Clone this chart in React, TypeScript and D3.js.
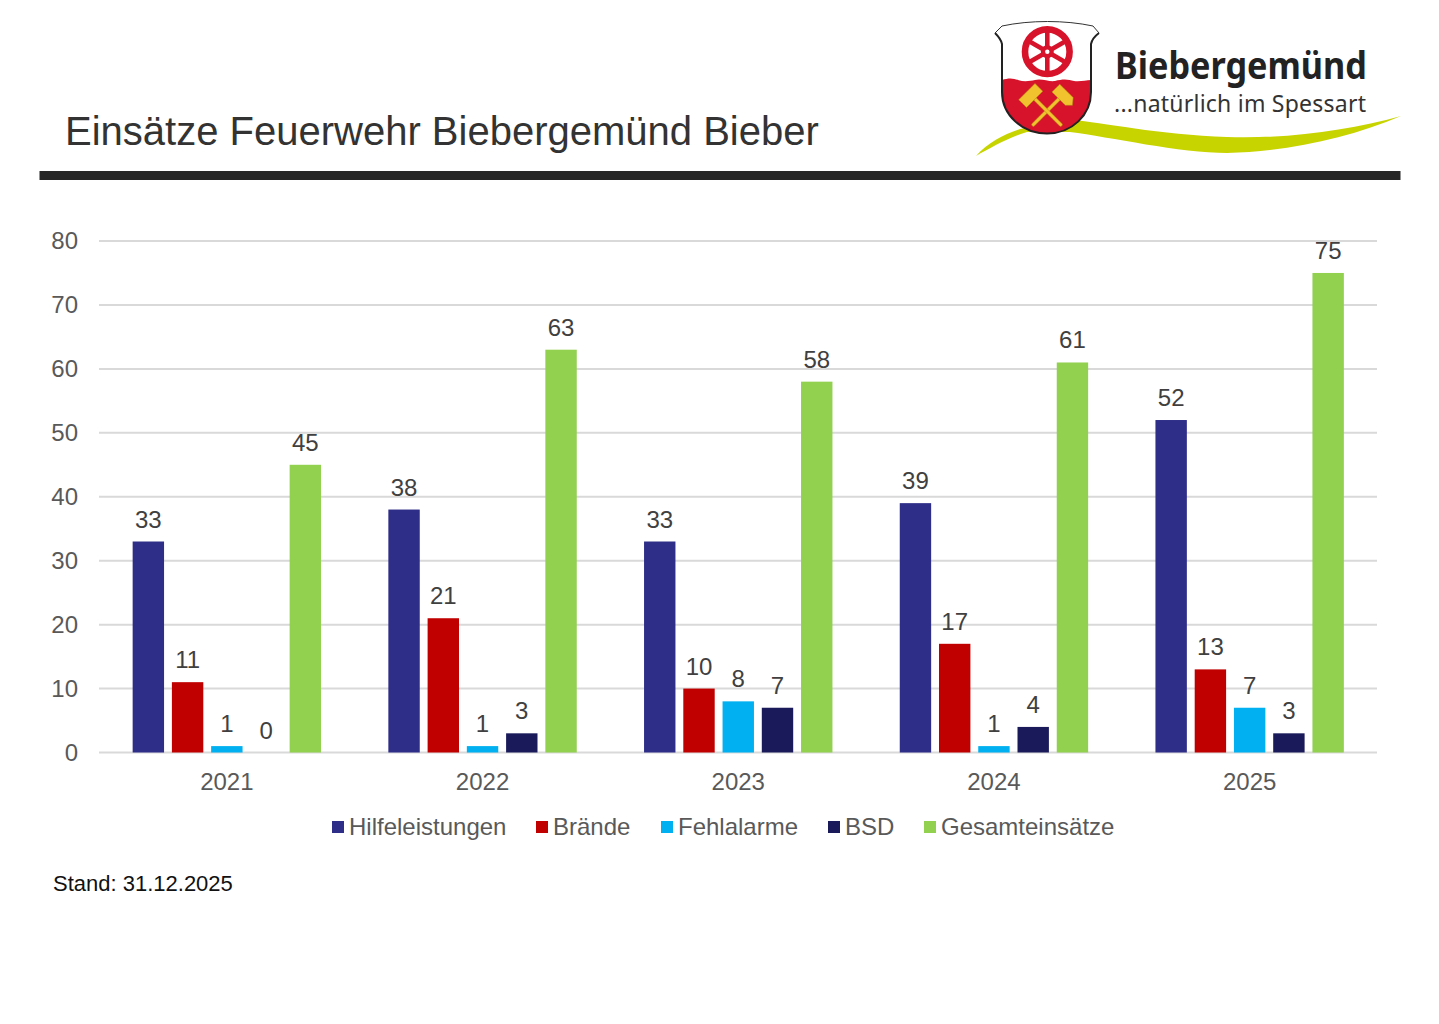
import React from 'react';
import * as d3 from 'd3';

const years = ['2021', '2022', '2023', '2024', '2025'];
const seriesNames = ['Hilfeleistungen', 'Brände', 'Fehlalarme', 'BSD', 'Gesamteinsätze'];
const seriesColors = ['#2e2d88', '#c00000', '#00b0f0', '#1a1a5a', '#92d050'];
const hilfeleistungen = [33, 38, 33, 39, 52];
const braende = [11, 21, 10, 17, 13];
const fehlalarme = [1, 1, 8, 1, 7];
const bsd = [0, 3, 7, 4, 3];
const gesamt = [45, 63, 58, 61, 75];
const seriesValues = [hilfeleistungen, braende, fehlalarme, bsd, gesamt];
const yTicks = [0, 10, 20, 30, 40, 50, 60, 70, 80];
const legendX = [332, 536, 661, 828, 924];

const FONT = 'Liberation Sans, Arial, sans-serif';
const GREY = '#595959';
const LOGO_RED = '#d7132b';
const LOGO_YELLOW = '#f2c22e';

const y = d3.scaleLinear().domain([0, 80]).range([752.5, 241]);
const x0 = d3.scaleBand().domain(years).range([99, 1377.5]);
const x1 = d3.scaleBand().domain(seriesNames).range([-94.2, 94.2]).paddingInner(0.2);

// Wappen + Schriftzug oben rechts
const Logo = () => {
  const spokes = d3.range(6).map((i) => (i * Math.PI) / 3 + Math.PI / 6);
  return (
    <g>
      <path
        d="M976,156 C988,142 1005,134 1020,129 L1073,120 C1100,122 1160,135 1227,137 C1290,139 1350,130 1401,116 C1350,138 1285,152 1227,153 C1180,153 1110,137 1070,132 L1027,132 C1010,137 990,148 976,156 Z"
        fill="#c8d400"
      />
      <path
        d="M1002,44 L1002,92 C1002,115 1022,133.5 1047,133.5 C1072,133.5 1091,115 1091,92 L1091,44 C1092,39 1095,36 1099,33 L1093,26 C1065,20 1030,20 1002,26 L995,33 C998,36 1001,39 1002,44 Z"
        fill="#fff"
      />
      <path
        d="M1002,80 C1008,78 1013,78 1018,80 C1024,82 1030,81 1035,80 C1041,78 1049,82 1055,81 C1062,79 1068,79 1074,81 C1080,82 1086,80 1091,80 L1091,92 C1091,115 1072,133.5 1047,133.5 C1022,133.5 1002,115 1002,92 Z"
        fill={LOGO_RED}
      />
      <path
        d="M995,33 C998,36 1001,39 1002,44 L1002,92 C1002,115 1022,133.5 1047,133.5 C1072,133.5 1091,115 1091,92 L1091,44 C1092,39 1095,36 1099,33"
        fill="none"
        stroke="#222"
        strokeWidth={2}
      />
      <path d="M995,33 L1002,26 C1030,20 1065,20 1093,26 L1099,33" fill="none" stroke="#333" strokeWidth={1} />
      <circle cx={1047.3} cy={51.7} r={22.3} fill="none" stroke={LOGO_RED} strokeWidth={6.6} />
      {spokes.map((a) => (
        <line
          key={a}
          x1={1047.3}
          y1={51.7}
          x2={1047.3 + 21 * Math.cos(a)}
          y2={51.7 + 21 * Math.sin(a)}
          stroke={LOGO_RED}
          strokeWidth={4.6}
        />
      ))}
      <circle cx={1047.3} cy={51.7} r={6.5} fill={LOGO_RED} />
      <circle cx={1047.3} cy={51.7} r={2.2} fill="#fff" />
      <g transform="translate(1047,111) rotate(45)" stroke="#a98a12" strokeWidth={0.5} fill={LOGO_YELLOW}>
        <rect x={-1.7} y={-20} width={3.4} height={41} rx={1.7} />
        <path d="M-10,-28 L9,-28 L14,-22 L9,-17 L-10,-17 Z" />
      </g>
      <g transform="translate(1047,111) rotate(-45)" stroke="#a98a12" strokeWidth={0.5} fill={LOGO_YELLOW}>
        <rect x={-1.7} y={-20} width={3.4} height={41} rx={1.7} />
        <path d="M-12,-28 L11,-28 L11,-17 L-12,-17 Z" />
      </g>
      <text x={1115} y={79} fontFamily="Noto Sans, sans-serif" fontWeight={700} fontSize={37} fill="#222" textLength={252} lengthAdjust="spacingAndGlyphs">
        Biebergemünd
      </text>
      <text x={1114} y={112} fontFamily="Noto Sans, sans-serif" fontSize={23} fill="#333" textLength={252} lengthAdjust="spacing">
        ...natürlich im Spessart
      </text>
    </g>
  );
};

export default function App() {
  return (
    <svg
      width={1439}
      height={1024}
      viewBox="0 0 1439 1024"
      style={{ position: 'absolute', left: 0, top: 0, display: 'block', background: '#fff' }}
    >
      <text x={65} y={145} fontFamily={FONT} fontSize={40} fill="#333">
        Einsätze Feuerwehr Biebergemünd Bieber
      </text>
      <Logo />
      <rect x={39.5} y={171} width={1361} height={9} fill="#262626" />

      {yTicks.map((t) => (
        <g key={t}>
          <line x1={99} x2={1377} y1={y(t)} y2={y(t)} stroke="#d9d9d9" strokeWidth={2} />
          <text x={78} y={y(t) + 8} textAnchor="end" fontFamily={FONT} fontSize={24} fill={GREY}>
            {t}
          </text>
        </g>
      ))}

      {years.map((yr, i) => {
        const cx = (x0(yr) as number) + x0.bandwidth() / 2;
        return (
          <g key={yr}>
            {seriesNames.map((name, j) => {
              const v = seriesValues[j][i];
              const bx = cx + (x1(name) as number);
              return (
                <g key={name}>
                  <rect x={bx} y={y(v)} width={x1.bandwidth()} height={y(0) - y(v)} fill={seriesColors[j]} />
                  <text
                    x={bx + x1.bandwidth() / 2}
                    y={y(v) - 14}
                    textAnchor="middle"
                    fontFamily={FONT}
                    fontSize={24}
                    fill="#404040"
                  >
                    {v}
                  </text>
                </g>
              );
            })}
            <text x={cx} y={790} textAnchor="middle" fontFamily={FONT} fontSize={24} fill={GREY}>
              {yr}
            </text>
          </g>
        );
      })}

      {seriesNames.map((name, j) => (
        <g key={name}>
          <rect x={legendX[j]} y={821} width={12} height={12} fill={seriesColors[j]} />
          <text x={legendX[j] + 17} y={835} fontFamily={FONT} fontSize={24} fill={GREY}>
            {name}
          </text>
        </g>
      ))}

      <text x={53} y={891} fontFamily={FONT} fontSize={22} fill="#111">
        Stand: 31.12.2025
      </text>
    </svg>
  );
}
